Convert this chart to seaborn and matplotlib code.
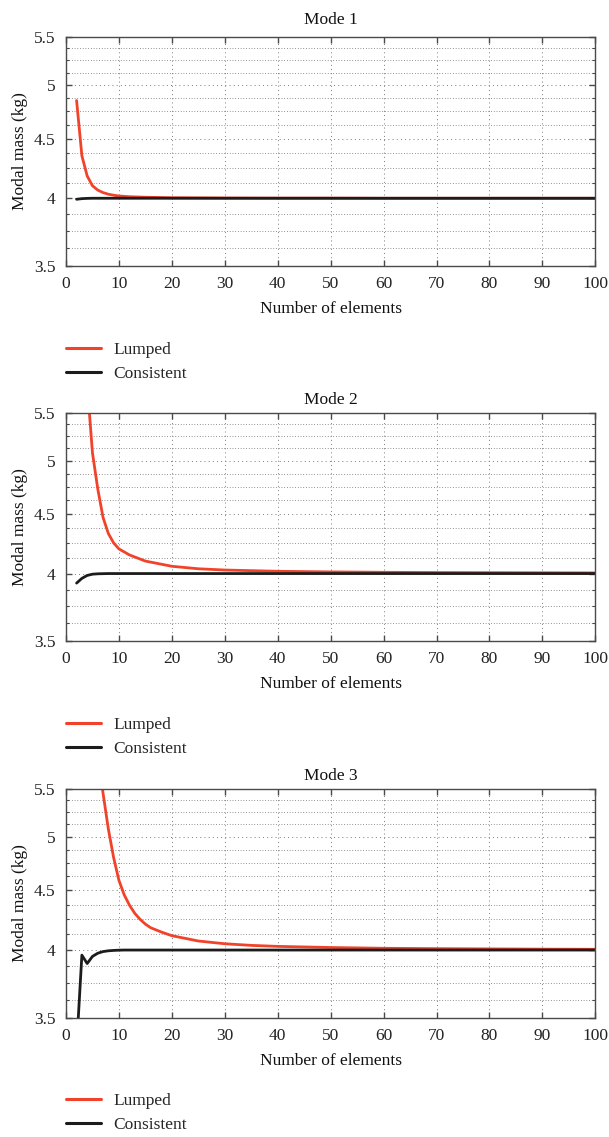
import numpy as np
import pandas as pd
import matplotlib
matplotlib.use("Agg")
import matplotlib.pyplot as plt
from matplotlib.ticker import FixedLocator, NullFormatter, FixedFormatter
import seaborn as sns

# ---------------- data ----------------
modes = ["Mode 1", "Mode 2", "Mode 3"]
series_names = ["Lumped", "Consistent"]

n_m1 = [2, 3, 4, 5, 6, 7, 8, 9, 10, 12, 15, 20, 30, 40, 50, 60, 70, 80, 90, 100]
lumped_m1 = [4.85, 4.35, 4.18, 4.10, 4.065, 4.045, 4.032, 4.024, 4.018, 4.012, 4.008, 4.004,
             4.002, 4.001, 4.001, 4.0, 4.0, 4.0, 4.0, 4.0]
consistent_m1 = [3.992, 3.997, 3.999, 4.0, 4.0, 4.0, 4.0, 4.0, 4.0, 4.0, 4.0, 4.0,
                 4.0, 4.0, 4.0, 4.0, 4.0, 4.0, 4.0, 4.0]

n_m2 = [2, 3, 4, 5, 6, 7, 8, 9, 10, 12, 15, 20, 25, 30, 40, 50, 60, 70, 80, 90, 100]
lumped_m2 = [9.0, 7.0, 5.82, 5.08, 4.73, 4.47, 4.33, 4.25, 4.20, 4.15, 4.10, 4.058, 4.038,
             4.028, 4.018, 4.013, 4.010, 4.008, 4.007, 4.006, 4.005]
consistent_m2 = [3.925, 3.962, 3.985, 3.995, 3.998, 3.999, 4.0, 4.0, 4.0, 4.0, 4.0, 4.0, 4.0,
                 4.0, 4.0, 4.0, 4.0, 4.0, 4.0, 4.0, 4.0]

n_m3 = [2, 3, 4, 5, 6, 7, 8, 9, 10, 11, 12, 13, 14, 15, 16, 18, 20, 25, 30, 35, 40, 50,
        60, 70, 80, 90, 100]
lumped_m3 = [12.0, 9.0, 7.5, 6.6, 5.95, 5.45, 5.08, 4.80, 4.59, 4.46, 4.37, 4.30, 4.25, 4.21,
             4.18, 4.145, 4.115, 4.072, 4.05, 4.037, 4.029, 4.02, 4.014, 4.011, 4.009,
             4.007, 4.006]
consistent_m3 = [3.3, 3.96, 3.895, 3.95, 3.975, 3.988, 3.994, 3.997, 3.999, 4.0, 4.0, 4.0,
                 4.0, 4.0, 4.0, 4.0, 4.0, 4.0, 4.0, 4.0, 4.0, 4.0, 4.0, 4.0, 4.0, 4.0, 4.0]

x_ticks = [0, 10, 20, 30, 40, 50, 60, 70, 80, 90, 100]
y_ticks = [3.5, 4, 4.5, 5, 5.5]
y_tick_labels = ["3.5", "4", "4.5", "5", "5.5"]
y_minor = [3.625, 3.75, 3.875, 4.125, 4.25, 4.375, 4.625, 4.75, 4.875, 5.125, 5.25, 5.375]

panels = [
    (n_m1, lumped_m1, consistent_m1),
    (n_m2, lumped_m2, consistent_m2),
    (n_m3, lumped_m3, consistent_m3),
]

# ---------------- style ----------------
sns.set_style("ticks")
plt.rcParams["font.family"] = ["Liberation Serif", "DejaVu Serif"]

RED = "#F0432A"
BLACK = "#1c1c1c"
SPINE = "#4a4a4a"
GRID = "#7a7a7a"
FS = 12.5

W, H = 609, 1137
fig = plt.figure(figsize=(W / 100, H / 100), dpi=100)

ax_left = 66 / W
ax_w = (595.3 - 66) / W
tops = [36.7, 412.7, 788.7]
bottoms = [266.0, 641.0, 1017.7]
legend_tops = [342.0, 717.0, 1093.0]
title_pads = [9.5, 6.5, 6.5]

for i, (mode, (n, lump, cons)) in enumerate(zip(modes, panels)):
    ax = fig.add_axes([ax_left, 1 - bottoms[i] / H, ax_w, (bottoms[i] - tops[i]) / H])
    df = pd.DataFrame({
        "n": list(n) * 2,
        "mass": list(lump) + list(cons),
        "method": [series_names[0]] * len(n) + [series_names[1]] * len(n),
    })
    sns.lineplot(data=df, x="n", y="mass", hue="method", palette=[RED, BLACK],
                 hue_order=series_names, linewidth=2.0, ax=ax, legend=False,
                 estimator=None, sort=False)
    ax.set_yscale("log")
    ax.set_xlim(0, 100)
    ax.set_ylim(3.5, 5.5)
    ax.xaxis.set_major_locator(FixedLocator(x_ticks))
    ax.set_xticklabels([str(t) for t in x_ticks])
    ax.yaxis.set_major_locator(FixedLocator(y_ticks))
    ax.yaxis.set_major_formatter(FixedFormatter(y_tick_labels))
    ax.yaxis.set_minor_locator(FixedLocator(y_minor))
    ax.yaxis.set_minor_formatter(NullFormatter())
    ax.xaxis.set_minor_locator(FixedLocator([]))

    ax.grid(True, which="major", axis="both", color=GRID, linewidth=0.7,
            linestyle=(0, (1.0, 3.3)))
    ax.grid(True, which="minor", axis="y", color=GRID, linewidth=0.7,
            linestyle=(0, (0.8, 2.0)))
    ax.set_axisbelow(True)

    for sp in ax.spines.values():
        sp.set_visible(True)
        sp.set_color(SPINE)
        sp.set_linewidth(1.0)
    ax.tick_params(which="major", direction="in", length=4.5, width=1.0, color=SPINE,
                   top=True, right=True, labelsize=FS, labelcolor="#222222", pad=7.5)
    ax.tick_params(which="minor", direction="in", length=2.5, width=0.8, color=SPINE,
                   top=False, right=True, left=True)

    ax.set_title(mode, fontsize=FS, pad=title_pads[i], color="#111111")
    ax.set_xlabel("Number of elements", fontsize=FS, labelpad=6.5, color="#111111")
    ax.set_ylabel("Modal mass (kg)", fontsize=FS, labelpad=4, color="#111111")

    handles = [plt.Line2D([], [], color=RED, linewidth=2.2),
               plt.Line2D([], [], color=BLACK, linewidth=2.2)]
    ax.legend(handles, series_names, loc="upper left",
              bbox_to_anchor=(66 / W, 1 - legend_tops[i] / H),
              bbox_transform=fig.transFigure, frameon=False, fontsize=FS,
              handlelength=2.0, handletextpad=0.75, labelspacing=0.42,
              borderpad=0.0, borderaxespad=0.0)

fig.savefig("out.png", dpi=100)
